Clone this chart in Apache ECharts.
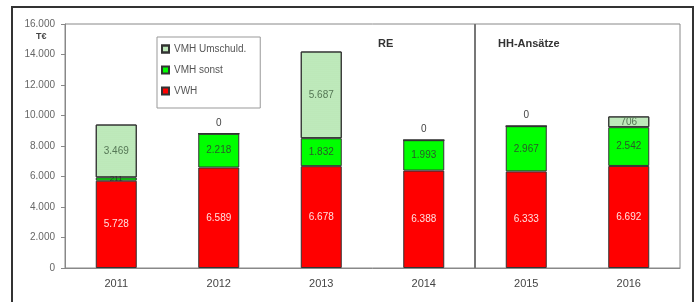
<!DOCTYPE html>
<html>
<head>
<meta charset="utf-8">
<script src="https://cdn.jsdelivr.net/npm/echarts@6/dist/echarts.min.js"></script>
<style>
  html, body { margin: 0; padding: 0; background: #fff; }
  #frame { position: absolute; left: 11px; top: 6px; width: 679px; height: 300px; border: 2px solid #333; }
  #chart { position: absolute; left: 0; top: 0; width: 698px; height: 302px; }
</style>
</head>
<body>
<div id="frame"></div>
<div id="chart"></div>
<script>
var years = ['2011', '2012', '2013', '2014', '2015', '2016'];
var vwh = [5728, 6589, 6678, 6388, 6333, 6692];
var vmhSonst = [211, 2218, 1832, 1993, 2967, 2542];
var vmhUmschuld = [3469, 0, 5687, 0, 0, 706];
var yTicks = [0, 2000, 4000, 6000, 8000, 10000, 12000, 14000, 16000];

function fmt(v) {
    // Tausenderpunkt wie im Original
    return String(v).replace(/\B(?=(\d{3})+(?!\d))/g, '.');
}

var font = 'Liberation Sans, Arial, sans-serif';

// Nullwerte bekommen das Label oberhalb des Balkens
var umschuldData = vmhUmschuld.map(function (v) {
    return v === 0 ? { value: v, label: { position: 'top', color: '#444' } } : v;
});
var sonstData = vmhSonst.map(function (v) {
    return v < 500 ? { value: v, label: { color: '#333', fontSize: 8 } } : v;
});

var option = {
    animation: false,
    textStyle: { fontFamily: font },
    grid: {
        left: 65, right: 18, top: 24, bottom: 34,
        show: true, borderColor: '#888', borderWidth: 1
    },
    legend: {
        data: ['VMH Umschuld.', 'VMH sonst', 'VWH'],
        orient: 'vertical',
        left: 157, top: 37,
        itemWidth: 7, itemHeight: 7, itemGap: 11,
        padding: [7, 14, 12, 4],
        borderColor: '#999', borderWidth: 1,
        textStyle: { fontSize: 10, color: '#555', fontFamily: font },
        icon: 'rect'
    },
    xAxis: [
        {
            type: 'category',
            data: years,
            axisTick: { show: false },
            axisLine: { lineStyle: { color: '#888' } },
            axisLabel: { fontSize: 11, color: '#444', margin: 10 }
        },
        // unsichtbare Hilfsachse fuer die Trennlinie zwischen den Kategorien
        { type: 'value', min: -0.5, max: years.length - 0.5, show: false }
    ],
    yAxis: {
        type: 'value',
        min: 0, max: yTicks[yTicks.length - 1], interval: 2000,
        axisLine: { show: true, onZero: false, lineStyle: { color: '#888' } },
        axisTick: { show: true, length: 4, lineStyle: { color: '#888' } },
        splitLine: { show: false },
        axisLabel: { fontSize: 10, color: '#666', margin: 10, formatter: fmt }
    },
    graphic: [
        { type: 'text', left: 36, top: 32, style: { text: 'T€', font: 'bold 9px ' + font, fill: '#444' } },
        { type: 'text', left: 378, top: 38, style: { text: 'RE', font: 'bold 11px ' + font, fill: '#333' } },
        { type: 'text', left: 498, top: 38, style: { text: 'HH-Ansätze', font: 'bold 11px ' + font, fill: '#333' } }
    ],
    series: [
        {
            name: 'VWH', type: 'bar', stack: 'a', barWidth: 41,
            data: vwh,
            itemStyle: { color: '#ff0000', borderColor: '#333', borderWidth: 1 },
            label: { show: true, position: 'inside', color: '#ffe0e0', fontSize: 10, formatter: function (p) { return fmt(p.value); } }
        },
        {
            name: 'VMH sonst', type: 'bar', stack: 'a',
            data: sonstData,
            itemStyle: { color: '#00ff00', borderColor: '#333', borderWidth: 1 },
            label: { show: true, position: 'inside', color: '#2a5a2a', fontSize: 10, formatter: function (p) { return fmt(p.value); } }
        },
        {
            name: 'VMH Umschuld.', type: 'bar', stack: 'a',
            data: umschuldData,
            itemStyle: {
                color: '#c4edc0', borderColor: '#333', borderWidth: 1,
                decal: { symbol: 'circle', symbolSize: 0.6, dashArrayX: [2, 0], dashArrayY: [2, 0], color: 'rgba(120,190,120,0.35)' }
            },
            label: { show: true, position: 'inside', color: '#557755', fontSize: 10, formatter: function (p) { return fmt(p.value); } }
        },
        {
            name: 'Trenner', type: 'line', xAxisIndex: 1, data: [],
            markLine: {
                silent: true, symbol: 'none', label: { show: false },
                lineStyle: { color: '#777', width: 2, type: 'solid' },
                data: [{ xAxis: 3.5 }]
            }
        }
    ]
};

var myChart = echarts.init(document.getElementById('chart'));
myChart.setOption(option);
</script>
</body>
</html>
